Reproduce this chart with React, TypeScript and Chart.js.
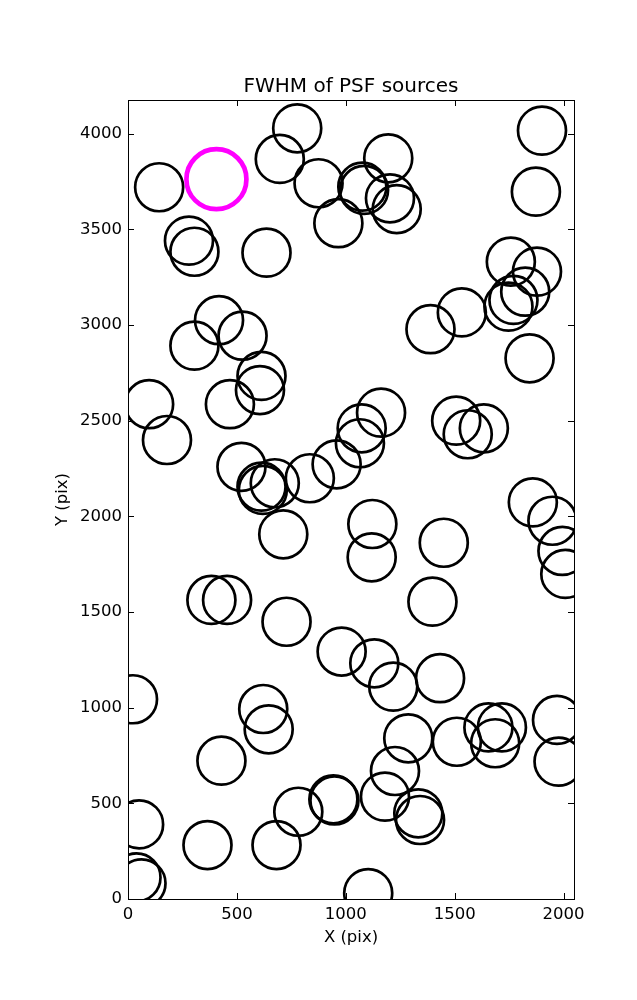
import React, { useEffect, useRef } from "react";
import { Chart, registerables } from "chart.js";

Chart.register(...registerables);

const TITLE = "FWHM of PSF sources";
const X_LABEL = "X (pix)";
const Y_LABEL = "Y (pix)";
const X_MIN = 0;
const X_MAX = 2048;
const Y_MIN = 0;
const Y_MAX = 4176;
const X_TICKS = [0, 500, 1000, 1500, 2000];
const Y_TICKS = [0, 500, 1000, 1500, 2000, 2500, 3000, 3500, 4000];

const SRC_X = [143, 777, 697, 875, 966, 280, 305, 636, 418, 526, 305, 613, 606, 1901, 1873, 1195, 1076, 1084, 1203, 1234, 1758, 1878, 1824, 1770, 1747, 1533, 1389, 1844, 97, 179, 468, 521, 613, 619, 674, 835, 958, 713, 1162, 1073, 1065, 1507, 1560, 1634, 1859, 1949, 1995, 2008, 1122, 1119, 1450, 1398, 383, 455, 728, 981, 1131, 1218, 1433, 1287, 1510, 1655, 1717, 1686, 1970, 1977, 1226, 1180, 1333, 1341, 1103, 23, 621, 646, 429, 51, 39, 62, 365, 682, 782, 943, 948];
const SRC_Y = [3720, 4028, 3868, 3741, 3532, 3441, 3383, 3378, 3025, 2944, 2892, 2734, 2660, 4016, 3697, 3871, 3723, 3706, 3662, 3606, 3331, 3279, 3174, 3131, 3096, 3066, 2978, 2826, 2586, 2399, 2586, 2259, 2155, 2138, 2173, 2199, 2272, 1906, 2542, 2460, 2382, 2500, 2429, 2460, 2073, 1977, 1819, 1699, 1960, 1786, 1862, 1554, 1563, 1563, 1449, 1293, 1232, 1110, 1154, 840, 822, 897, 897, 814, 936, 718, 669, 535, 448, 413, 31, 1044, 993, 887, 723, 390, 113, 82, 282, 282, 456, 521, 515];
const HIGHLIGHT_X = [406];
const HIGHLIGHT_Y = [3762];

const FONT = "'DejaVu Sans', sans-serif";

const framePlugin = {
  id: "frameTicks",
  afterDatasetsDraw(chart: any) {
    const { ctx, chartArea } = chart;
    const { left, right, top, bottom } = chartArea;
    const xs = chart.scales.x;
    const ys = chart.scales.y;
    const len = 6;
    ctx.save();
    ctx.strokeStyle = "#000";
    ctx.lineWidth = 1;
    ctx.beginPath();
    X_TICKS.forEach((v) => {
      const px = Math.round(xs.getPixelForValue(v)) + 0.5;
      ctx.moveTo(px, bottom);
      ctx.lineTo(px, bottom - len);
      ctx.moveTo(px, top);
      ctx.lineTo(px, top + len);
    });
    Y_TICKS.forEach((v) => {
      const py = Math.round(ys.getPixelForValue(v)) + 0.5;
      ctx.moveTo(left, py);
      ctx.lineTo(left + len, py);
      ctx.moveTo(right, py);
      ctx.lineTo(right - len, py);
    });
    ctx.stroke();
    ctx.strokeRect(Math.round(left) + 0.5, Math.round(top) + 0.5, Math.round(right - left), Math.round(bottom - top));
    ctx.restore();
  },
};

export default function App() {
  const ref = useRef<HTMLCanvasElement | null>(null);
  useEffect(() => {
    if (!ref.current) return;
    const sources = SRC_X.map((x, i) => ({ x, y: SRC_Y[i] }));
    const highlight = HIGHLIGHT_X.map((x, i) => ({ x, y: HIGHLIGHT_Y[i] }));
    const chart = new Chart(ref.current, {
      type: "scatter",
      data: {
        datasets: [
          {
            data: sources,
            pointRadius: 24,
            pointHoverRadius: 24,
            borderWidth: 2.7,
            borderColor: "#000000",
            backgroundColor: "rgba(0,0,0,0)",
            clip: 0,
          } as any,
          {
            data: highlight,
            pointRadius: 30,
            pointHoverRadius: 30,
            borderWidth: 4.7,
            borderColor: "#ff00ff",
            backgroundColor: "rgba(0,0,0,0)",
            clip: 0,
          } as any,
        ],
      },
      options: {
        responsive: false,
        maintainAspectRatio: false,
        animation: false,
        events: [],
        layout: { padding: { top: 0, left: 0, right: 63, bottom: 0 } },
        plugins: {
          legend: { display: false },
          tooltip: { enabled: false },
          title: {
            display: true,
            text: TITLE,
            fullSize: false,
            color: "#000",
            font: { family: FONT, size: 20, weight: "normal" as any, lineHeight: 1.2 },
            padding: { top: 75, bottom: 1 },
          },
        },
        scales: {
          x: {
            type: "linear",
            min: X_MIN,
            max: X_MAX,
            grid: { display: false, drawTicks: false },
            border: { display: false },
            afterBuildTicks: (s: any) => {
              s.ticks = X_TICKS.map((v) => ({ value: v }));
            },
            afterFit: (s: any) => {
              s.height = 101;
            },
            ticks: {
              color: "#000",
              font: { family: FONT, size: 16.5 },
              padding: 6,
              maxRotation: 0,
              autoSkip: false,
              callback: (v: any) => String(v),
            },
            title: {
              display: true,
              text: X_LABEL,
              color: "#000",
              font: { family: FONT, size: 16.5, lineHeight: 1.2 },
              padding: { top: 0, bottom: 52 },
            },
          },
          y: {
            type: "linear",
            min: Y_MIN,
            max: Y_MAX,
            grid: { display: false, drawTicks: false },
            border: { display: false },
            afterBuildTicks: (s: any) => {
              s.ticks = Y_TICKS.map((v) => ({ value: v }));
            },
            afterFit: (s: any) => {
              s.width = 128;
            },
            ticks: {
              color: "#000",
              font: { family: FONT, size: 16.5 },
              padding: 6,
              autoSkip: false,
              callback: (v: any) => String(v),
            },
            title: {
              display: true,
              text: Y_LABEL,
              color: "#000",
              font: { family: FONT, size: 16.5, lineHeight: 1.2 },
              padding: { top: 53, bottom: 0 },
            },
          },
        },
      },
      plugins: [framePlugin],
    });
    return () => chart.destroy();
  }, []);
  return (
    <div style={{ position: "absolute", left: 0, top: 0, width: 637, height: 1000, background: "#fff" }}>
      <canvas ref={ref} width={637} height={1000} />
    </div>
  );
}
